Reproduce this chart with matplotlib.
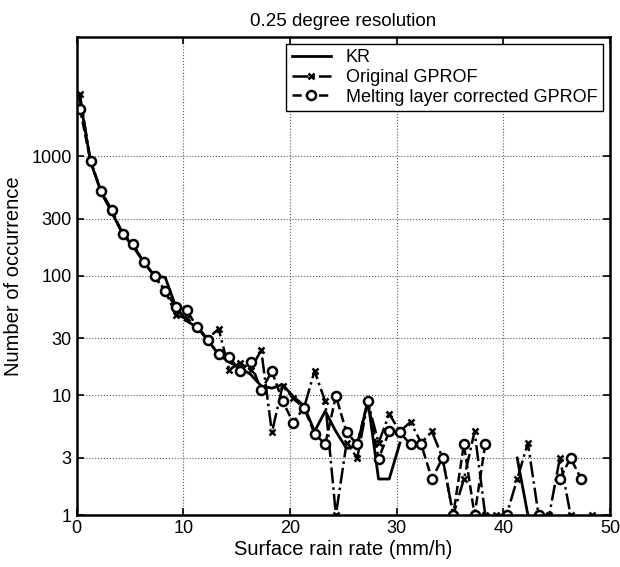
import matplotlib
matplotlib.use('Agg')
import matplotlib.pyplot as plt
import numpy as np

plt.rcParams['font.family'] = ['Liberation Sans', 'DejaVu Sans']

# bin centres of the surface rain rate (mm/h)
rain_rate = np.arange(49) + 0.3

# counts, nan = no occurrence (not drawn on log axis)
nan = np.nan
kr = [3000, 900, 500, 340, 225, 175, 130, 100, 97, 55,
      42, 37, 29, 22, 19, 17, 15, 12, 11.5, 12.3,
      9.8, 8.2, 5, 7.4, 5, 3.6, 3.8, 9, 2, 2,
      4, nan, nan, nan, nan, nan, nan, nan, nan, nan,
      nan, 3, 1, nan, nan, nan, nan, nan, nan]
gprof = [3300, 900, 500, 340, 225, 180, 130, 100, 75, 47,
         44, 37, 30, 36, 16.4, 18.7, 16.4, 24, 4.9, 12,
         9.5, 7.8, 16, 8.9, 1, 4, 3, 8.8, 4, 7,
         5, 6, 4, 5, 3, 1, 2, 5, 1, 1,
         1, 2, 4, 1, 1, 3, 1, nan, 1]
corrected = [2500, 910, 510, 355, 225, 183, 130, 99, 74, 55,
             52, 37, 29, 22, 21, 16, 19, 11, 15.9, 9,
             5.9, 7.9, 4.8, 3.9, 9.9, 4.9, 3.9, 9, 2.95, 5,
             4.9, 3.9, 3.9, 2, 3, 1, 3.9, 1, 3.9, nan,
             1, nan, nan, 1, nan, 2, 3, 2, nan]

fig = plt.figure(figsize=(6.2, 5.67), dpi=100)
ax = fig.add_axes([0.1237, 0.0917, 0.8602, 0.8436])

ax.plot(rain_rate, kr, '-', color='black', linewidth=2.0, label='KR')
ax.plot(rain_rate, gprof, '-.', color='black', linewidth=1.8, marker='x',
        markersize=5, markeredgewidth=1.8, label='Original GPROF')
ax.plot(rain_rate, corrected, '--', color='black', linewidth=1.8, marker='o',
        markersize=6.5, markerfacecolor='white', markeredgewidth=1.8,
        label='Melting layer corrected GPROF')

ax.set_yscale('log')
ax.set_xlim(0, 50)
ax.set_ylim(1, 10000)
ax.set_xticks([0, 10, 20, 30, 40, 50])
ax.set_yticks([1, 3, 10, 30, 100, 300, 1000])
ax.set_yticklabels(['1', '3', '10', '30', '100', '300', '1000'])
ax.minorticks_off()
ax.tick_params(direction='in', top=True, right=True, labelsize=13, length=5, width=1.2)
ax.grid(True, linestyle=':', color='0.35', linewidth=0.8)
for s in ax.spines.values():
    s.set_linewidth(1.8)

ax.set_xlabel('Surface rain rate (mm/h)', fontsize=14.5, labelpad=2)
ax.set_ylabel('Number of occurrence', fontsize=14.5, labelpad=6)
ax.set_title('0.25 degree resolution', fontsize=13.5, pad=8)

leg = ax.legend(loc='upper right', fontsize=13, frameon=True, fancybox=False,
                edgecolor='black', framealpha=1, borderaxespad=0.4,
                handlelength=2.2, borderpad=0.3, labelspacing=0.15)
leg.get_frame().set_linewidth(1.0)

plt.savefig('out.png', dpi=100)
